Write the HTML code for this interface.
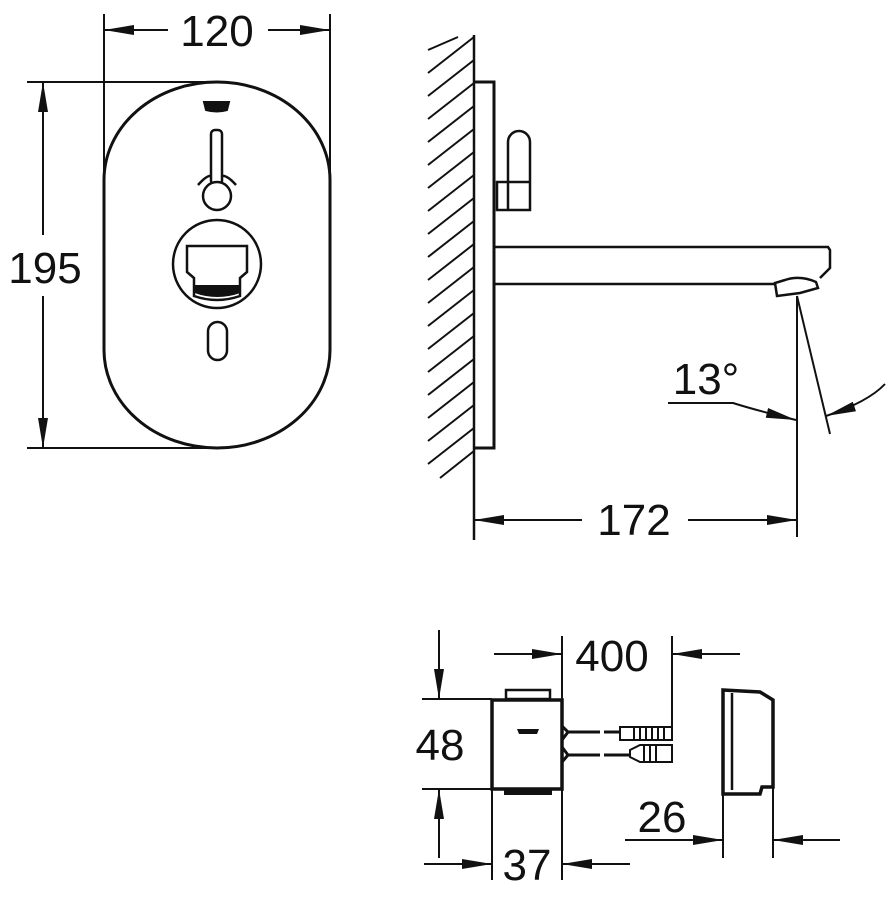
<!DOCTYPE html>
<html><head><meta charset="utf-8"><style>
html,body{margin:0;padding:0;background:#fff}
svg{display:block}
text{font-family:"Liberation Sans",sans-serif;font-size:44px;fill:#111}
</style></head><body>
<svg width="894" height="913" viewBox="0 0 894 913" xmlns="http://www.w3.org/2000/svg">
<defs>
<marker id="a" viewBox="0 0 30 10" refX="30" refY="5" markerWidth="30" markerHeight="10" markerUnits="userSpaceOnUse" orient="auto"><path d="M0,0 L30,5 L0,10 Z" fill="#111"/></marker>
</defs>
<g stroke="#111" fill="none" stroke-width="2">
<!-- Front view -->
<line x1="104" y1="14" x2="104" y2="300"/>
<line x1="330" y1="14" x2="330" y2="300"/>
<line x1="168" y1="30" x2="104" y2="30" marker-end="url(#a)"/>
<line x1="268" y1="30" x2="330" y2="30" marker-end="url(#a)"/>
<line x1="27" y1="82" x2="217" y2="82"/>
<line x1="27" y1="448" x2="217" y2="448"/>
<line x1="43" y1="235" x2="43" y2="82" marker-end="url(#a)"/>
<line x1="43" y1="296" x2="43" y2="448" marker-end="url(#a)"/>
<path d="M104,180 A113,98 0 0 1 330,180 L330,350 A113,98 0 0 1 104,350 Z" stroke-width="3"/>
<path d="M204,102 L229,102 L227,110 Q217,113 206,110 Z" fill="#111"/>
<rect x="211" y="130" width="11" height="55" rx="4" stroke-width="2.5"/>
<circle cx="217" cy="196" r="14" stroke-width="2.5" fill="#fff"/>
<path d="M198,185 Q207,175 211,176 M236,185 Q227,175 222,176" stroke-width="2.5"/>
<circle cx="217" cy="264" r="44" stroke-width="2.5"/>
<path d="M187,246 L247,246 L247,272 L240,278 L240,296 Q217,304 194,296 L194,278 L187,272 Z" stroke-width="2.5"/>
<path d="M195,292 Q217,300 240,292 L240,286 L195,286 Z" fill="#111"/>
<rect x="208" y="322" width="19" height="38" rx="9.5" stroke-width="2.5"/>
<!-- Side view hatching -->
<g stroke-width="2">
<line x1="428" y1="50" x2="458" y2="37"/>
<line x1="428" y1="73" x2="474" y2="37"/>
<line x1="428" y1="96" x2="474" y2="60"/>
<line x1="428" y1="119" x2="474" y2="83"/>
<line x1="428" y1="142" x2="474" y2="106"/>
<line x1="428" y1="165" x2="474" y2="129"/>
<line x1="428" y1="188" x2="474" y2="152"/>
<line x1="428" y1="211" x2="474" y2="175"/>
<line x1="428" y1="234" x2="474" y2="198"/>
<line x1="428" y1="257" x2="474" y2="221"/>
<line x1="428" y1="280" x2="474" y2="244"/>
<line x1="428" y1="303" x2="474" y2="267"/>
<line x1="428" y1="326" x2="474" y2="290"/>
<line x1="428" y1="349" x2="474" y2="313"/>
<line x1="428" y1="372" x2="474" y2="336"/>
<line x1="428" y1="395" x2="474" y2="359"/>
<line x1="428" y1="418" x2="474" y2="382"/>
<line x1="428" y1="441" x2="474" y2="405"/>
<line x1="428" y1="464" x2="474" y2="428"/>
<line x1="440" y1="478" x2="474" y2="451"/>
</g>
<line x1="474" y1="35" x2="474" y2="540" stroke-width="2.5"/>
<path d="M474,82 L494,82 L494,448 L474,448" stroke-width="3"/>
<path d="M508,210 L508,142 A11,11 0 0 1 530,142 L530,210 L497,210 L497,182 L508,182 M508,182 L530,182" stroke-width="2.5"/>
<path d="M495,247 L828,247 L830,250 L830,268 L820,278 M495,284 L775,284" stroke-width="2.5"/>
<path d="M775,283 L777,296 L800,293 L818,288 L816,282 Q800,275 785,280 Z" stroke-width="2.5"/>
<line x1="797" y1="296" x2="797" y2="537"/>
<line x1="797" y1="296" x2="830" y2="434"/>
<path d="M668,403 L733,403 Q755,410 796,420" marker-end="url(#a)"/>
<path d="M885,384 Q868,402 826,416" marker-end="url(#a)"/>
<line x1="582" y1="520" x2="474" y2="520" marker-end="url(#a)"/>
<line x1="688" y1="520" x2="797" y2="520" marker-end="url(#a)"/>
<!-- Bottom box -->
<rect x="492" y="700" width="70" height="89" stroke-width="3.5"/>
<rect x="506" y="690" width="44" height="9" stroke-width="2.5"/>
<rect x="505" y="789" width="46" height="5" fill="#111"/>
<path d="M517,729 L539,729 L537,734 L519,734 Z" fill="#111" stroke="none"/>
<path d="M562,726 L568,732 L562,740 M562,747 L568,755 L562,762" stroke-width="3"/>
<path d="M567,732 L600,732 M604,732 L620,732 M567,755 L600,755 M604,755 L630,755" stroke-width="3"/>
<rect x="620" y="727" width="52" height="13" stroke-width="2"/>
<path d="M634,727 L634,740 M640,728 V739 M646,728 V739 M652,728 V739 M658,728 V739 M664,728 V739" stroke-width="2"/>
<path d="M630,750 L640,745 L672,745 L672,762 L640,762 L630,757 Z" stroke-width="2"/>
<path d="M644,746 V761 M650,746 V761 M656,746 V761" stroke-width="2"/>
<line x1="562" y1="636" x2="562" y2="700"/>
<line x1="672" y1="636" x2="672" y2="728"/>
<line x1="494" y1="654" x2="562" y2="654" marker-end="url(#a)"/>
<line x1="740" y1="654" x2="672" y2="654" marker-end="url(#a)"/>
<line x1="422" y1="699" x2="492" y2="699"/>
<line x1="422" y1="789" x2="492" y2="789"/>
<line x1="439" y1="630" x2="439" y2="699" marker-end="url(#a)"/>
<line x1="439" y1="858" x2="439" y2="789" marker-end="url(#a)"/>
<line x1="492" y1="789" x2="492" y2="880"/>
<line x1="562" y1="789" x2="562" y2="880"/>
<line x1="424" y1="864" x2="492" y2="864" marker-end="url(#a)"/>
<line x1="630" y1="864" x2="562" y2="864" marker-end="url(#a)"/>
<!-- Cover -->
<path d="M723,690 L760,692 L773,700 L773,787 L762,787 L760,794 L723,794 Z" stroke-width="3.5"/>
<line x1="732" y1="693" x2="732" y2="790" stroke-width="2.5"/>
<line x1="723" y1="794" x2="723" y2="858"/>
<line x1="773" y1="787" x2="773" y2="858"/>
<line x1="625" y1="840" x2="723" y2="840" marker-end="url(#a)"/>
<line x1="840" y1="840" x2="773" y2="840" marker-end="url(#a)"/>
</g>
<text x="217" y="46" text-anchor="middle">120</text>
<text x="45" y="283" text-anchor="middle">195</text>
<text x="706" y="394" text-anchor="middle">13°</text>
<text x="634" y="535" text-anchor="middle">172</text>
<text x="612" y="671" text-anchor="middle">400</text>
<text x="440" y="760" text-anchor="middle">48</text>
<text x="662" y="832" text-anchor="middle">26</text>
<text x="527" y="880" text-anchor="middle">37</text>
</svg>
</body></html>
